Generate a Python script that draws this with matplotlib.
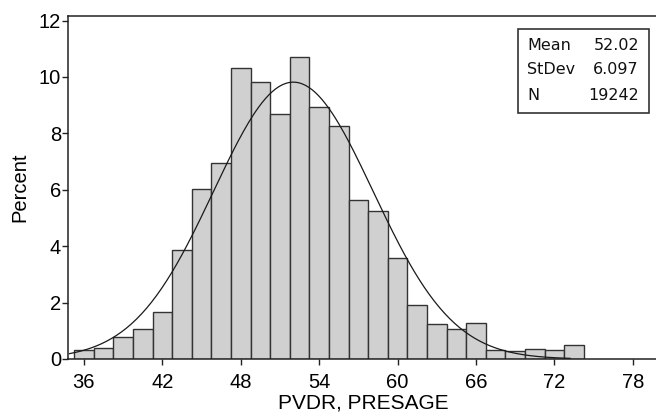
import numpy as np
import matplotlib
matplotlib.use("Agg")
import matplotlib.pyplot as plt

# bin centres (width 1.5) and percent heights
bin_centres = [36, 37.5, 39, 40.5, 42, 43.5, 45, 46.5, 48, 49.5, 51, 52.5, 54,
               55.5, 57, 58.5, 60, 61.5, 63, 64.5, 66, 67.5, 69, 70.5, 72, 73.5]
percent = [0.32, 0.40, 0.77, 1.06, 1.67, 3.87, 6.03, 6.94, 10.33, 9.83, 8.68,
           10.71, 8.95, 8.26, 5.63, 5.25, 3.57, 1.91, 1.23, 1.05, 1.28, 0.32,
           0.28, 0.37, 0.32, 0.51]
bin_width = 1.5

# summary stats shown in the box
mean = 52.02
stdev = 6.097
n_obs = 19242
data_min, data_max = 34.9, 73.2

x_ticks = [36, 42, 48, 54, 60, 66, 72, 78]
y_ticks = [0, 2, 4, 6, 8, 10, 12]

plt.rcParams['font.family'] = ['Liberation Sans', 'DejaVu Sans']

W, H = 656, 412
fig = plt.figure(figsize=(W / 100, H / 100), dpi=100)
ax = fig.add_axes([68 / W, 53 / H, 591 / W, 343 / H])

ax.bar(bin_centres, percent, width=bin_width, color='#d0d0d0',
       edgecolor='#333333', linewidth=1.0, zorder=2)

# fitted normal curve, scaled to percent per bin
xs = np.linspace(data_min, data_max, 300)
ys = 100 * bin_width / (stdev * np.sqrt(2 * np.pi)) * np.exp(-0.5 * ((xs - mean) / stdev) ** 2)
ax.plot(xs, ys, color='#1a1a1a', linewidth=0.9, zorder=3)

ax.set_xlim(34.78, 80.0)
ax.set_ylim(0, 12.16)
ax.set_xticks(x_ticks)
ax.set_yticks(y_ticks)
ax.tick_params(direction='out', length=4, width=1, labelsize=14.5, color='#222')
ax.tick_params(axis='y', pad=1)
ax.tick_params(axis='x', pad=6)
for s in ax.spines.values():
    s.set_linewidth(1.1)
    s.set_color('#222')

ax.set_xlabel('PVDR, PRESAGE', fontsize=15, labelpad=1)
ax.set_ylabel('Percent', fontsize=14.5, labelpad=7)

# stats box
bx0, by0, bx1, by1 = 518, 29, 649, 113
fig.patches.append(plt.Rectangle((bx0 / W, 1 - by1 / H), (bx1 - bx0) / W, (by1 - by0) / H,
                                 transform=fig.transFigure, fill=False,
                                 edgecolor='#333', linewidth=1.2))
rows = [('Mean', f'{mean:.2f}'), ('StDev', f'{stdev:.3f}'), ('N', f'{n_obs}')]
for i, (lab, val) in enumerate(rows):
    yy = 1 - (45 + 25 * i) / H
    fig.text(527 / W, yy, lab, fontsize=11.5, family='DejaVu Sans', va='center', ha='left', color='#111')
    fig.text(639 / W, yy, val, fontsize=11.5, family='DejaVu Sans', va='center', ha='right', color='#111')

fig.savefig('out.png', dpi=100)
